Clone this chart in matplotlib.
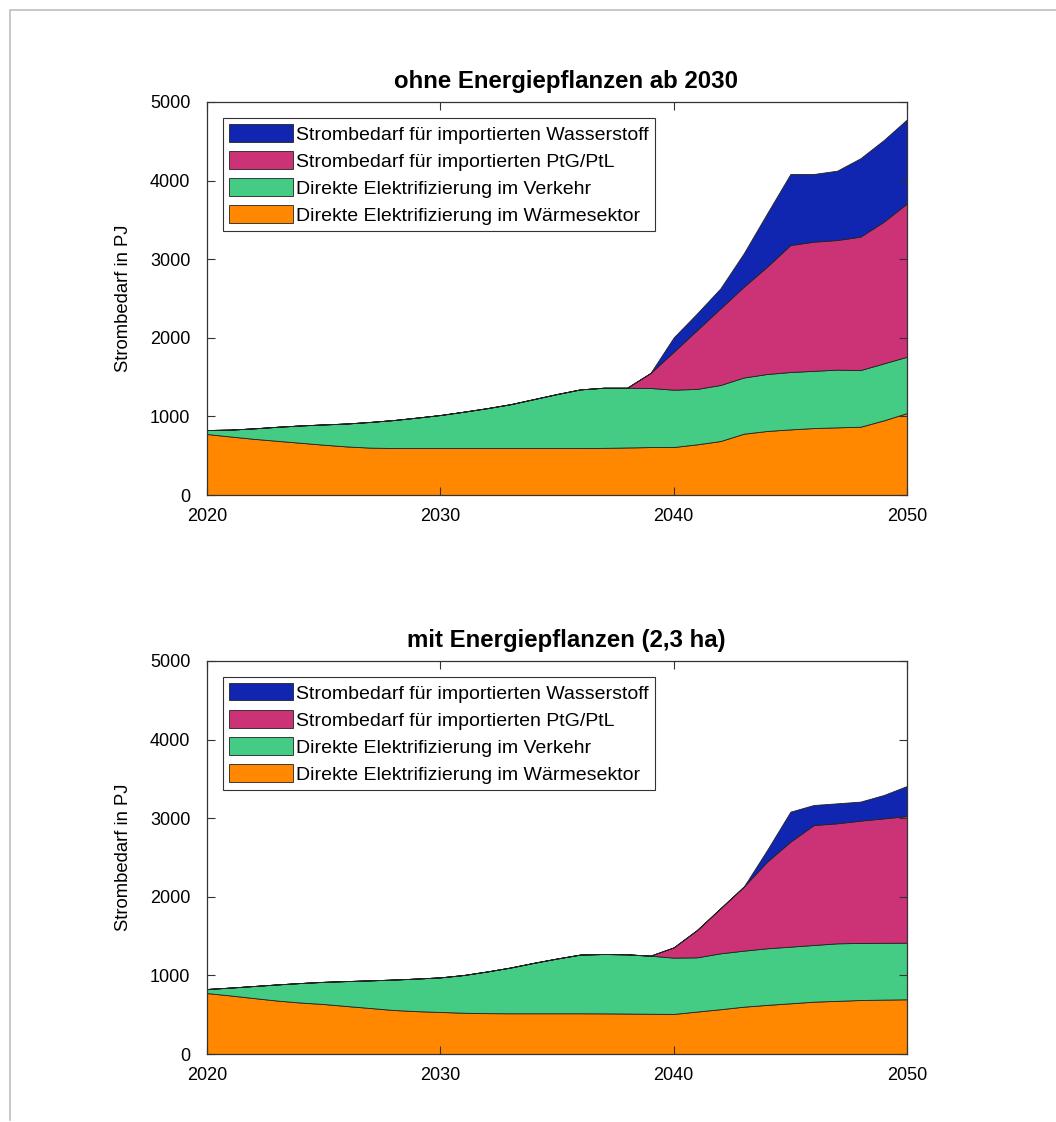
#!/usr/bin/env python3
"""
Strombedarf (PJ) nach Verwendung, zwei Szenarien als gestapelte Flächen:
  oben  : ohne Energiepflanzen ab 2030
  unten : mit Energiepflanzen (2,3 ha)
"""

import matplotlib.pyplot as plt
from matplotlib.lines import Line2D

YEARS = list(range(2020, 2051))

LABELS = [
    "Direkte Elektrifizierung im Wärmesektor",
    "Direkte Elektrifizierung im Verkehr",
    "Strombedarf für importierten PtG/PtL",
    "Strombedarf für importierten Wasserstoff",
]
COLORS = ["#ff8800", "#44cc84", "#cc3377", "#1126b0"]

TITLES = ["ohne Energiepflanzen ab 2030", "mit Energiepflanzen (2,3 ha)"]

# ---------- scenario 1: ohne Energiepflanzen ab 2030 (PJ) ----------
A_WAERME = [776, 745, 715, 690, 665, 640, 618, 603, 598, 598, 598, 598, 598, 598, 598, 598,
            598, 600, 605, 610, 611, 645, 687, 780, 815, 835, 852, 861, 869, 950, 1043]
A_VERKEHR = [51, 87, 133, 178, 220, 258, 292, 327, 356, 387, 420, 462, 507, 557, 622, 687,
             746, 765, 760, 752, 729, 705, 713, 715, 725, 730, 728, 734, 721, 725, 717]
A_PTG = [0, 0, 0, 0, 0, 0, 0, 0, 0, 0, 0, 0, 0, 0, 0, 0,
         0, 0, 0, 190, 483, 749, 975, 1155, 1365, 1616, 1643, 1649, 1697, 1803, 1951]
A_H2 = [0, 0, 0, 0, 0, 0, 0, 0, 0, 0, 0, 0, 0, 0, 0, 0,
        0, 0, 0, 0, 183, 212, 254, 425, 678, 903, 861, 882, 997, 1038, 1069]

# ---------- scenario 2: mit Energiepflanzen (2,3 ha) (PJ) ----------
B_WAERME = [775, 745, 712, 680, 655, 636, 610, 585, 560, 545, 535, 525, 520, 518, 518, 518,
            518, 517, 515, 512, 510, 540, 570, 602, 625, 645, 666, 676, 687, 692, 696]
B_VERKEHR = [52, 100, 153, 205, 248, 282, 318, 352, 387, 415, 440, 480, 530, 582, 642, 697,
             747, 755, 753, 739, 716, 690, 711, 713, 720, 721, 721, 732, 726, 723, 720]
B_PTG = [0, 0, 0, 0, 0, 0, 0, 0, 0, 0, 0, 0, 0, 0, 0, 0,
         0, 0, 0, 0, 131, 348, 573, 814, 1102, 1336, 1526, 1527, 1556, 1583, 1612]
B_H2 = [0, 0, 0, 0, 0, 0, 0, 0, 0, 0, 0, 0, 0, 0, 0, 0,
        0, 0, 0, 0, 0, 0, 0, 0, 148, 381, 255, 254, 242, 297, 382]

FS_TICK = 13
FS_LEG = 14.0


def draw_panel(ax, series, title):
    ax.stackplot(YEARS, *series, labels=LABELS, colors=COLORS,
                 edgecolor="#222222", linewidth=0.6)
    ax.set_xlim(2020, 2050)
    ax.set_ylim(0, 5000)
    ax.set_xticks([2020, 2030, 2040, 2050])
    ax.set_yticks(range(0, 5001, 1000))
    ax.tick_params(direction="in", top=True, right=True, length=6,
                   color="#333333", labelsize=FS_TICK)
    ax.tick_params(axis="x", pad=9)
    ax.tick_params(axis="y", pad=12)
    for sp in ax.spines.values():
        sp.set_color("#333333")
        sp.set_linewidth(0.9)
    ax.set_ylabel("Strombedarf in PJ", fontsize=13.3, labelpad=13)
    # title sits a bit right of the axes centre in the original
    ax.set_title(title, fontsize=17.3, fontweight="bold", pad=10, x=0.513)

    # legend reversed, like the original (Wasserstoff on top)
    h, l = ax.get_legend_handles_labels()
    leg = ax.legend(h[::-1], l[::-1], loc="upper left", fontsize=FS_LEG,
                    fancybox=False, framealpha=1, edgecolor="#333333",
                    handlelength=3.25, handleheight=0.98, handletextpad=0.2,
                    labelspacing=0.4, borderpad=0.33, borderaxespad=0.82)
    leg.get_frame().set_linewidth(0.8)
    for p in leg.get_patches():
        p.set_edgecolor("#222222")
        p.set_linewidth(0.6)


def main():
    plt.rcParams["font.family"] = ["Liberation Sans", "DejaVu Sans"]
    fig = plt.figure(figsize=(10.56, 11.22), dpi=100)

    ax1 = fig.add_axes([0.196, 0.5588, 0.663, 0.3503])
    ax2 = fig.add_axes([0.196, 0.0606, 0.663, 0.3503])

    draw_panel(ax1, [A_WAERME, A_VERKEHR, A_PTG, A_H2], TITLES[0])
    draw_panel(ax2, [B_WAERME, B_VERKEHR, B_PTG, B_H2], TITLES[1])

    # light grey frame on left/top edge of the figure
    x0 = 10 / 1056
    y0 = 1 - 10 / 1122
    fig.add_artist(Line2D([x0, x0, 1.0], [2 / 1122, y0, y0], transform=fig.transFigure,
                          color="#bdbdbd", linewidth=1.2))

    fig.savefig("out.png", dpi=100, facecolor="white")


if __name__ == "__main__":
    main()
